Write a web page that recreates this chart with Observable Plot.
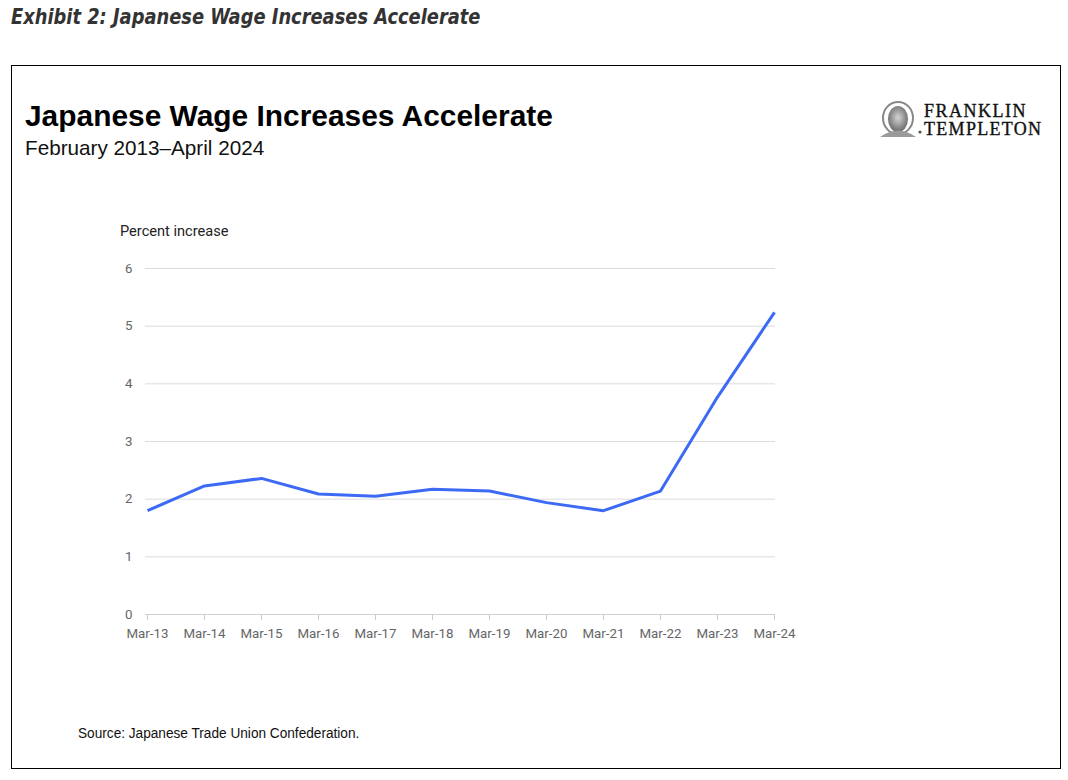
<!DOCTYPE html>
<html>
<head>
<meta charset="utf-8">
<script src="https://cdn.jsdelivr.net/npm/d3@7"></script>
<script src="https://cdn.jsdelivr.net/npm/@observablehq/plot@0.6"></script>
<style>
  html, body { margin: 0; padding: 0; background: #fff; }
  #page { position: relative; width: 1068px; height: 780px; overflow: hidden; }
  #exhibit { position: absolute; left: 11px; top: 5px; font-family: "Liberation Sans Narrow", "DejaVu Sans Condensed", sans-serif; font-weight: bold; font-style: italic; font-size: 21px; color: #333; transform: scaleX(0.945); transform-origin: left top; white-space: nowrap; }
  #frame { position: absolute; left: 11px; top: 65px; width: 1050px; height: 704px; border: 1px solid #000; box-sizing: border-box; }
  #title { position: absolute; left: 25px; top: 99px; font-family: "Liberation Sans", Arial, sans-serif; font-weight: bold; font-size: 29.9px; color: #000; white-space: nowrap; }
  #subtitle { position: absolute; left: 25px; top: 136px; font-family: "Liberation Sans", Arial, sans-serif; font-size: 20.7px; color: #111; white-space: nowrap; }
  #ylabel { position: absolute; left: 120px; top: 222px; font-family: Roboto, "Liberation Sans", sans-serif; font-size: 14.6px; color: #222; white-space: nowrap; }
  #source { position: absolute; left: 78px; top: 724px; font-family: "Liberation Sans Narrow", "Liberation Sans", sans-serif; font-size: 15.5px; color: #111; transform: scaleX(0.88); transform-origin: left top; white-space: nowrap; }
  #logo { position: absolute; left: 878px; top: 100px; }
  #chart { position: absolute; left: 0; top: 220px; }
</style>
</head>
<body>
<div id="page">
  <div id="exhibit">Exhibit 2: Japanese Wage Increases Accelerate</div>
  <div id="frame"></div>
  <div id="title">Japanese Wage Increases Accelerate</div>
  <div id="subtitle">February 2013–April 2024</div>
  <svg id="logo" width="175" height="40" viewBox="0 0 175 40">
    <defs>
      <radialGradient id="g" cx="50%" cy="45%" r="55%">
        <stop offset="0%" stop-color="#d4d4d4"/>
        <stop offset="100%" stop-color="#6a6a6a"/>
      </radialGradient>
    </defs>
    <ellipse cx="20" cy="18" rx="15" ry="16" fill="none" stroke="#888" stroke-width="2"/>
    <ellipse cx="20" cy="19" rx="10" ry="13" fill="url(#g)"/>
    <path d="M2 37 Q20 24 38 37 Z" fill="#9a9a9a"/>
    <circle cx="42" cy="32" r="1.6" fill="#555"/>
    <text x="46" y="17" font-family="'Liberation Serif', 'DejaVu Serif', serif" font-size="18" letter-spacing="1.5" fill="#111" stroke="#111" stroke-width="0.35">FRANKLIN</text>
    <text x="46" y="35" font-family="'Liberation Serif', 'DejaVu Serif', serif" font-size="18" letter-spacing="1.3" fill="#111" stroke="#111" stroke-width="0.35">TEMPLETON</text>
  </svg>
  <div id="ylabel">Percent increase</div>
  <div id="chart"></div>
  <div id="source">Source: Japanese Trade Union Confederation.</div>
</div>
<script>
const periods = ["Mar-13","Mar-14","Mar-15","Mar-16","Mar-17","Mar-18","Mar-19","Mar-20","Mar-21","Mar-22","Mar-23","Mar-24"];
const wageIncrease = [1.80, 2.23, 2.36, 2.09, 2.05, 2.17, 2.14, 1.94, 1.80, 2.14, 3.77, 5.24];
const yTicks = [0, 1, 2, 3, 4, 5, 6];

const data = periods.map((p, i) => ({period: p, value: wageIncrease[i]}));

const chart = Plot.plot({
  width: 800,
  height: 460,
  marginLeft: 145,
  marginRight: 25,
  marginTop: 48,
  marginBottom: 66,
  style: { fontFamily: "Roboto, 'Liberation Sans', sans-serif", fontSize: "13.3px", color: "#666", background: "transparent" },
  x: { type: "point", domain: periods, padding: 0, label: null },
  y: { domain: [0, 6], ticks: yTicks, label: null },
  marks: [
    Plot.ruleY(yTicks.filter(d => d > 0), { stroke: "#dcdcdc", strokeWidth: 1 }),
    Plot.ruleY([0], { stroke: "#d0d0d0", strokeWidth: 1 }),
    Plot.axisY({ ticks: yTicks, tickFormat: d3.format("d"), tickSize: 0, tickPadding: 13, fill: "#666", label: null }),
    Plot.axisX({ ticks: periods, tickSize: 6, tickPadding: 8, stroke: "#ccc", fill: "#666", label: null }),
    Plot.line(data, { x: "period", y: "value", stroke: "#3d6af5", strokeWidth: 3, strokeLinejoin: "round", strokeLinecap: "butt" })
  ]
});
document.getElementById("chart").appendChild(chart);
</script>
</body>
</html>
